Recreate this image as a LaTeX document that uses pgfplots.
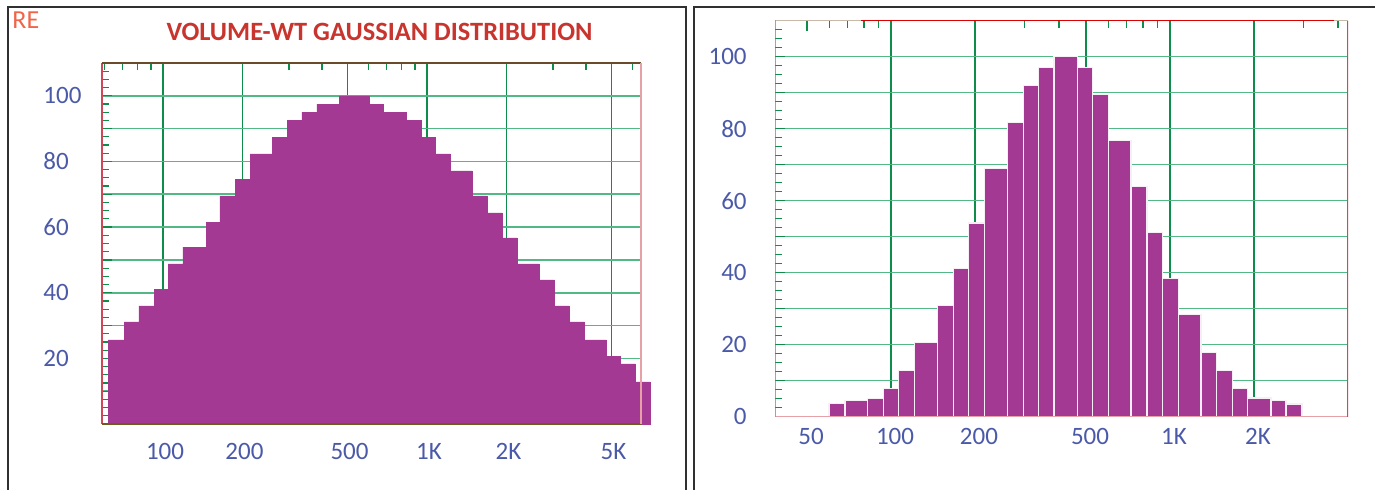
\documentclass[border=0pt]{standalone}
\usepackage{fontspec}
\setmainfont{Carlito}
\usepackage{pgfplots}
\pgfplotsset{compat=1.18}

\definecolor{barfill}{HTML}{A33992}
\definecolor{gridgreen}{HTML}{0E8C4A}
\definecolor{gridlight}{HTML}{52B886}
\definecolor{ticklab}{HTML}{4B5AA8}
\definecolor{spinered}{HTML}{D04858}
\definecolor{spinepink}{HTML}{E8A0A8}
\definecolor{spinebrown}{HTML}{6B4A2B}
\definecolor{spinetan}{HTML}{C8B8A8}
\definecolor{titlered}{HTML}{C8342E}
\definecolor{refred}{HTML}{F0644A}
\definecolor{framegrey}{HTML}{303030}

\begin{document}
\begin{tikzpicture}
\path[use as bounding box] (0,0) rectangle (687.5pt,-245pt);
\draw[framegrey, line width=1pt] (4pt,-3.5pt) rectangle (343pt,-260pt);
\draw[framegrey, line width=1pt] (347.2pt,-3.5pt) rectangle (700pt,-260pt);
\node[refred, anchor=west, inner sep=0pt, font=\fontsize{13}{15}\selectfont] at (6pt,-10pt) {RE};
\node[titlered, font=\bfseries\fontsize{13.2}{15}\selectfont] at (189.75pt,-16pt) {VOLUME-WT GAUSSIAN DISTRIBUTION};

% left panel
\begin{axis}[
  scale only axis,
  at={(51pt,-212pt)}, anchor=south west,
  width=269.5pt, height=180.5pt,
  xmode=log,
  xmin=58.74, xmax=6466,
  ymin=0, ymax=110,
  clip=false,
  xtick={100,200,500,1000,2000,5000},
  xticklabels={100,200,500,1K,2K,5K},
  minor xtick={60,70,80,90,300,400,600,700,800,900,3000,4000,6000},
  ytick={0,10,...,110},
  yticklabels={,,20,,40,,60,,80,,100,},
  minor y tick num=3,
  ytick pos=left, xtick pos=right, xticklabel pos=left,
  tick align=inside,
  major tick length=5pt, minor tick length=3.5pt,
  tick style={gridgreen, line width=0.6pt},
  xmajorgrids, ymajorgrids,
  major grid style={gridgreen, line width=0.6pt},
  every axis y grid/.append style={gridlight, line width=0.8pt},
  axis line style={draw=none},
  tick label style={font=\fontsize{12.5}{14}\selectfont, text=ticklab, inner sep=0pt},
  /pgf/number format/assume math mode=true,
  yticklabel style={anchor=west, xshift=-29.5pt},
  xticklabel style={anchor=north, yshift=-9.5pt, xshift=1pt},
]
\addplot[ybar interval, fill=barfill, draw=barfill, line width=0.3pt] coordinates {
  (61.9,25.6) (71.2,31.1) (81.1,36.0) (92.5,41.1) (104.5,48.8) (119.0,53.9)
  (145.5,61.5) (164.4,69.5) (187.4,74.6) (213.6,82.3) (258.8,87.4) (294.9,92.4)
  (336.1,95.0) (383.1,97.5) (464.2,100.0) (603.0,97.5) (681.3,95.0) (832.6,92.4)
  (949.0,87.4) (1072,82.3) (1222,77.1) (1481,69.5) (1688,64.3) (1924,56.7)
  (2192,48.8) (2656,43.9) (3027,36.0) (3450,31.1) (3933,25.6) (4765,20.7)
  (5383,18.3) (6136,12.8) (6994,12.8)
};
\draw[spinered, line width=0.6pt] (rel axis cs:0,0) -- (rel axis cs:0,1);
\draw[spinebrown, line width=0.8pt] (rel axis cs:0,1) -- (rel axis cs:1,1);
\draw[spinebrown!70!olive, line width=0.8pt] (rel axis cs:0,0) -- (rel axis cs:1,0);
\draw[spinepink, line width=1pt] (rel axis cs:1,0) -- (rel axis cs:1,1);
\end{axis}

% right panel
\begin{axis}[
  scale only axis,
  at={(387.65pt,-208.35pt)}, anchor=south west,
  width=286.35pt, height=198pt,
  xmode=log,
  xmin=38.49, xmax=4345,
  ymin=0, ymax=110,
  xtick={100,200,500,1000,2000},
  xticklabels={100,200,500,1K,2K},
  extra x ticks={50},
  extra x tick labels={50},
  extra x tick style={grid=none},
  minor xtick={60,70,80,90,300,400,600,700,800,900,3000,4000},
  ytick={0,10,...,110},
  yticklabels={0,,20,,40,,60,,80,,100,},
  minor y tick num=3,
  ytick pos=left, xtick pos=right, xticklabel pos=left,
  tick align=inside,
  major tick length=5pt, minor tick length=3.5pt,
  tick style={gridgreen, line width=0.6pt},
  xmajorgrids, ymajorgrids,
  major grid style={gridgreen, line width=0.6pt},
  every axis y grid/.append style={gridlight, line width=0.8pt},
  axis line style={draw=none},
  tick label style={font=\fontsize{12.5}{14}\selectfont, text=ticklab, inner sep=0pt},
  /pgf/number format/assume math mode=true,
  yticklabel style={anchor=east, xshift=-14.15pt},
  xticklabel style={anchor=north, yshift=-5.5pt, xshift=2pt},
]
\addplot[ybar interval, fill=barfill, draw=white!92!barfill, line width=0.6pt] coordinates {
  (59.95,3.7) (68.41,4.6) (82.44,5.1) (93.92,7.8) (106.6,12.8) (121.3,20.6)
  (146.9,30.8) (167.2,41.1) (189.9,53.8) (216.2,69.0) (261.8,81.8) (298.0,92.1)
  (338.1,97.1) (383.9,100.0) (466.5,97.1) (527.5,89.4) (602.5,76.7) (724.8,63.9)
  (827.1,51.2) (939.2,38.4) (1070,28.3) (1292,17.9) (1470,12.8) (1674,7.8)
  (1899,5.2) (2302,4.4) (2605,3.5) (2972,3.5)
};
\draw[spinered, line width=0.6pt] (rel axis cs:0,0) -- (rel axis cs:0,1);
\draw[spinetan, line width=0.8pt] (rel axis cs:0,1) -- (rel axis cs:0.15,1);
\draw[red!85!black, line width=0.6pt] (rel axis cs:0.15,1) -- (rel axis cs:0.975,1);
\draw[spinetan, line width=0.8pt] (rel axis cs:0.975,1) -- (rel axis cs:1,1);
\draw[spinepink, line width=0.8pt] (rel axis cs:0,0) -- (rel axis cs:1,0);
\draw[spinered, line width=0.6pt] (rel axis cs:1,0) -- (rel axis cs:1,1);
\end{axis}
\end{tikzpicture}
\end{document}
